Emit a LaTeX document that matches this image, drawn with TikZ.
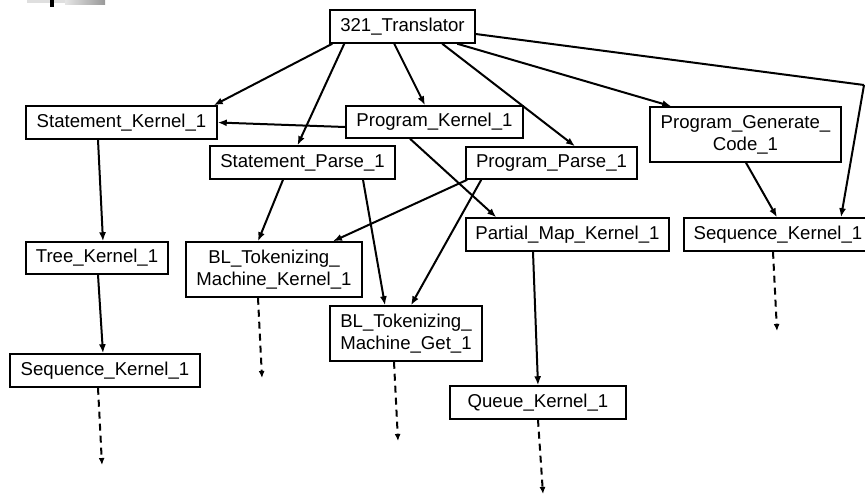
\documentclass[tikz,border=0pt]{standalone}
\usepackage{fontspec}
\setmainfont{Liberation Sans}
\usetikzlibrary{arrows.meta,calc}
\begin{document}
\begin{tikzpicture}[x=1pt,y=-1pt,
  box/.style={draw,line width=1.5pt,inner sep=0pt,align=center,
    font=\fontsize{18.6}{22}\selectfont},
  dep/.style={line width=2pt,-{Latex[length=9pt,width=7pt]}},
  ext/.style={line width=2pt,dash pattern=on 7pt off 5pt,-{Latex[length=7pt,width=6pt]}}]
\useasboundingbox (0,0) rectangle (865,498);

% small toolbar fragment in the corner
\fill[gray!25] (27,0) rectangle (65,3);
\shade[left color=gray!20,right color=gray!80] (65,0) rectangle (105,4);
\fill[black] (50,0) rectangle (54,7);

% modules
\node[box,minimum width=145pt,minimum height=33pt] (trans) at (402.5,26.5) {321\_Translator};
\node[box,minimum width=191pt,minimum height=33pt] (sk) at (121.5,122.5) {Statement\_Kernel\_1};
\node[box,minimum width=177pt,minimum height=32pt] (pk) at (434.5,122) {Program\_Kernel\_1};
\node[box,minimum width=185pt,minimum height=33pt] (sp) at (302.5,162.5) {Statement\_Parse\_1};
\node[box,minimum width=171pt,minimum height=32pt] (pp) at (551.5,163) {Program\_Parse\_1};
\node[box,minimum width=191pt,minimum height=55pt] (pgc) at (745.5,134.5) {Program\_Generate\_\\Code\_1};
\node[box,minimum width=188pt,minimum height=33pt] (seqR) at (778,234.5) {Sequence\_Kernel\_1};
\node[box,minimum width=142pt,minimum height=32pt] (tk) at (97,258) {Tree\_Kernel\_1};
\node[box,minimum width=190pt,minimum height=33pt] (seqL) at (105,370.5) {Sequence\_Kernel\_1};
\node[box,minimum width=176pt,minimum height=55pt] (tmk) at (274,269.5) {BL\_Tokenizing\_\\Machine\_Kernel\_1};
\node[box,minimum width=152pt,minimum height=55pt] (tmg) at (406,333.5) {BL\_Tokenizing\_\\Machine\_Get\_1};
\node[box,minimum width=203pt,minimum height=33pt] (pmk) at (567.5,234.5) {Partial\_Map\_Kernel\_1};
\node[box,minimum width=176pt,minimum height=33pt] (qk) at (538,402.5) {Queue\_Kernel\_1};

% bend point of the long edge on the right
\coordinate (bend) at (864,85);

% loose ends of the dashed continuations
\coordinate (seqLx) at (102,465);
\coordinate (tmkx) at (262,378);
\coordinate (tmgx) at (398,441);
\coordinate (qkx) at (543,494);
\coordinate (seqRx) at (777,331);

% dependencies of the translator
\draw[dep] ($(trans.south west)+(3,0)$) -- ($(sk.north east)+(-4,0)$);
\draw[dep] ($(trans.south west)+(15,0)$) -- ($(sp.north)+(-5,0)$);
\draw[dep] ($(trans.south west)+(65,0)$) -- ($(pk.north)+(-9.5,0)$);
\draw[dep] ($(trans.south west)+(113,0)$) -- ($(pp.north)+(23.5,0)$);
\draw[dep] ($(trans.south west)+(128,0)$) -- ($(pgc.north west)+(22,0)$);
\draw[line width=2pt] ($(trans.east)+(0,7.5)$) -- (bend);
\draw[dep] (bend) -- ($(seqR.north)+(63,0)$);

% remaining dependencies
\draw[dep] ($(pk.west)+(0,5)$) -- (sk.east);
\draw[dep] ($(pk.south)+(-24.5,0)$) -- ($(pmk.north west)+(31,0)$);
\draw[dep] ($(sk.south)+(-23.5,0)$) -- ($(tk.north)+(6,0)$);
\draw[dep] ($(tk.south)+(1,0)$) -- ($(seqL.north)+(-2,0)$);
\draw[dep] ($(sp.south)+(-19.5,0)$) -- ($(tmk.north)+(-16,0)$);
\draw[dep] ($(sp.south)+(60.5,0)$) -- ($(tmg.north)+(-21,0)$);
\draw[dep] ($(pp.south west)+(2,0)$) -- ($(tmk.north)+(59,0)$);
\draw[dep] ($(pp.south west)+(16,0)$) -- ($(tmg.north)+(5,0)$);
\draw[dep] ($(pgc.south)+(0.5,0)$) -- ($(seqR.north)+(-1,0)$);
\draw[dep] ($(pmk.south)+(-34.5,0)$) -- (qk.north);

% continuations
\draw[ext] ($(seqL.south)+(-7,0)$) -- (seqLx);
\draw[ext] ($(tmk.south)+(-16,0)$) -- (tmkx);
\draw[ext] ($(tmg.south)+(-12,0)$) -- (tmgx);
\draw[ext] (qk.south) -- (qkx);
\draw[ext] ($(seqR.south)+(-5,0)$) -- (seqRx);
\end{tikzpicture}
\end{document}
